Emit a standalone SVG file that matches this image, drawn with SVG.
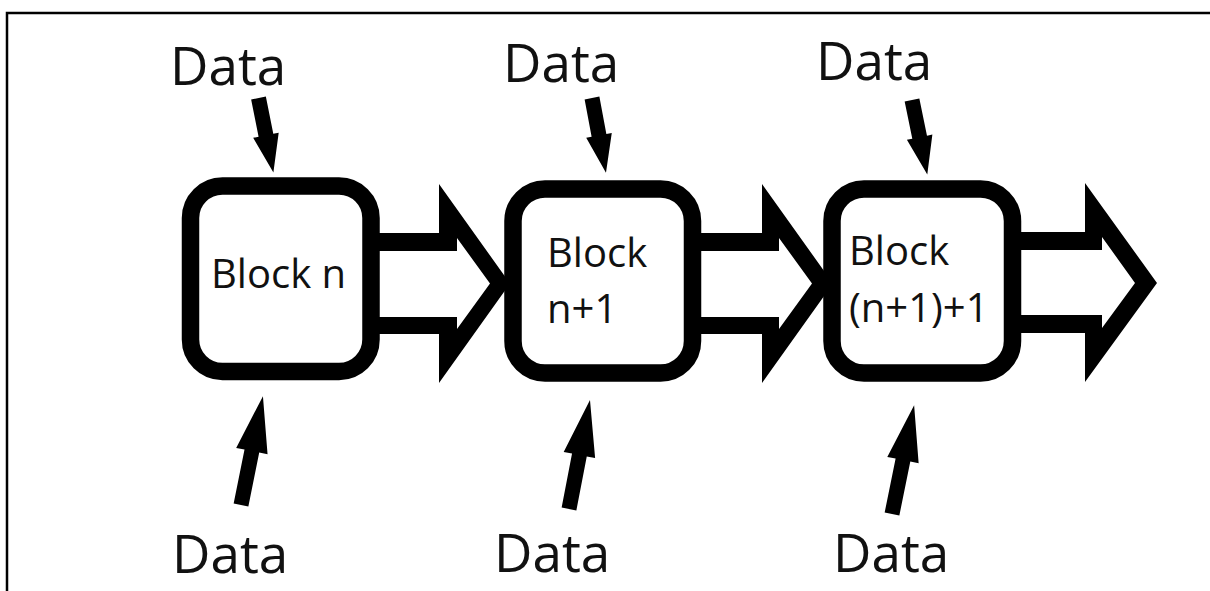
<svg xmlns="http://www.w3.org/2000/svg" width="1210" height="591" viewBox="0 0 1210 591">
<style>
.frame{fill:none;stroke:#000;stroke-width:2.5}
.box{fill:#fff;stroke:#000;stroke-width:17.5}
.outer{fill:#000}
.inner{fill:#fff}
.lbl{font-family:"Open Sans","Noto Sans","Liberation Sans",sans-serif;fill:#111}
.data{font-size:53px}
.blk{font-size:40px}
</style>
<defs>
<path id="arrDown" d="M-7.5,0 L7.5,0 L7.5,38 L13,38 L0,76 L-13,38 L-7.5,38 Z" fill="#000"/>
<path id="arrUp" d="M-7.5,0 L7.5,0 L7.5,-55 L16,-55 L0,-111 L-16,-55 L-7.5,-55 Z" fill="#000"/>
</defs>
<rect width="1210" height="591" fill="#fff"/>
<rect class="frame" x="7" y="13" width="1300" height="700"/>
<g id="connectors">
<g id="flow1">
<polygon class="outer" points="370,233 439,233 439,184 510,283.5 439,383 439,334 370,334"/>
<polygon class="inner" points="370,251 457,251 457,238 490,283.5 457,329 457,317 370,317"/>
</g>
<g id="flow2">
<polygon class="outer" points="690,233 762,233 762,184 833,283.5 762,383 762,334 690,334"/>
<polygon class="inner" points="690,251 779,251 779,238 812,283.5 779,329 779,317 690,317"/>
</g>
<g id="flow3">
<polygon class="outer" points="1010,232 1085,232 1085,183 1157,283 1085,382 1085,333 1010,333"/>
<polygon class="inner" points="1010,250 1102,250 1102,237 1135,283 1102,328 1102,315 1010,315"/>
</g>
<use href="#arrDown" transform="translate(258.5,98) rotate(-11.3)"/>
<use href="#arrDown" transform="translate(592,98) rotate(-10.6)"/>
<use href="#arrDown" transform="translate(912,100) rotate(-11.6)"/>
<use href="#arrUp" transform="translate(241,505) rotate(11.4)"/>
<use href="#arrUp" transform="translate(569,509) rotate(10.9)"/>
<use href="#arrUp" transform="translate(892,514) rotate(11.5)"/>
</g>
<g id="block1">
<rect class="box" x="190.5" y="186" width="180.5" height="185.5" rx="32"/>
<text class="lbl blk" x="211" y="288">Block n</text>
</g>
<g id="block2">
<rect class="box" x="513" y="189" width="179.5" height="184" rx="32"/>
<text class="lbl blk" x="547" y="266.5">Block</text>
<text class="lbl blk" x="547" y="322.5">n+1</text>
</g>
<g id="block3">
<rect class="box" x="832" y="189" width="180.5" height="184" rx="32"/>
<text class="lbl blk" x="849" y="265">Block</text>
<text class="lbl blk" x="849" y="321.5">(n+1)+1</text>
</g>
<g id="labels">
<text class="lbl data" x="170" y="85">Data</text>
<text class="lbl data" x="503" y="81.5">Data</text>
<text class="lbl data" x="816" y="80">Data</text>
<text class="lbl data" x="172" y="572.5">Data</text>
<text class="lbl data" x="494" y="571.5">Data</text>
<text class="lbl data" x="833" y="571.5">Data</text>
</g>
</svg>
